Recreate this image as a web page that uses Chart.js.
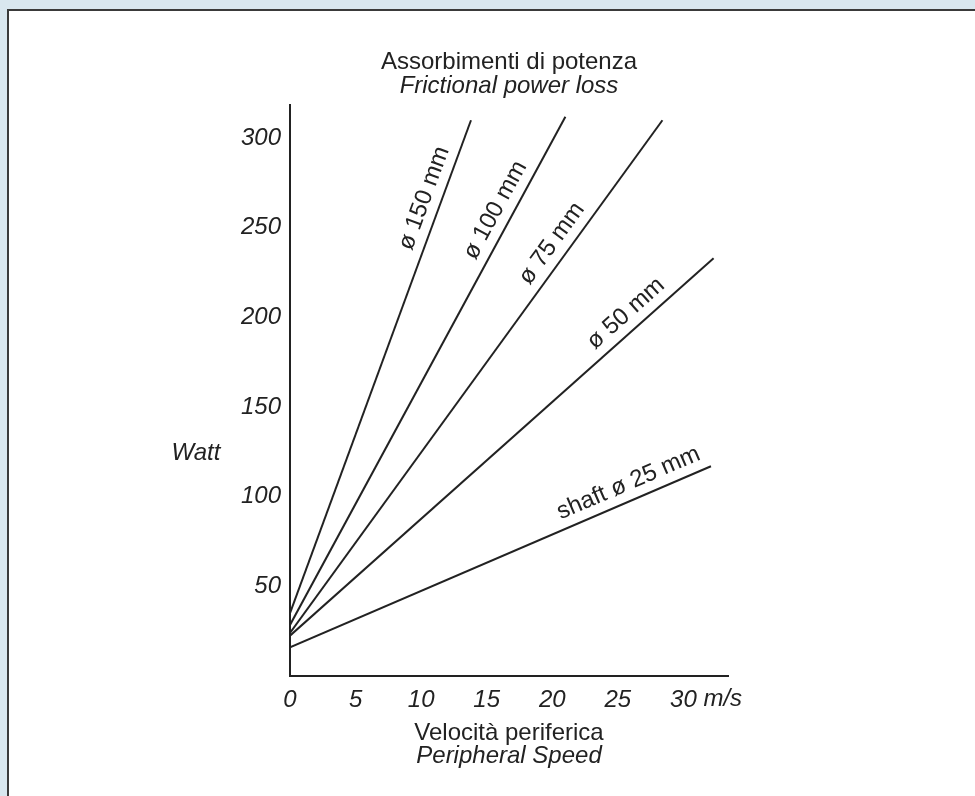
<!DOCTYPE html>
<html lang="it">
<head>
    <meta charset="UTF-8">
    <title>Assorbimenti di potenza</title>
    <style>
        body {
            margin: 0;
            width: 975px;
            height: 796px;
            overflow: hidden;
            background-color: #d9e7ef;
            font-family: "Liberation Sans", Arial, sans-serif;
        }
        .panel {
            position: absolute;
            left: 7px;
            top: 9px;
            width: 980px;
            height: 800px;
            background-color: #fff;
            border-left: 2px solid #3a3a3a;
            border-top: 2px solid #3a3a3a;
        }
        .chart-container {
            position: absolute;
            left: 0;
            top: 0;
            width: 975px;
            height: 796px;
        }
    </style>
</head>
<body>
    <div class="panel"></div>
    <div class="chart-container">
        <canvas id="powerChart"></canvas>
    </div>

    <script src="https://cdn.jsdelivr.net/npm/chart.js"></script>
    <script>
        // curves: power at 0 m/s and where each line ends
        const seriesNames = ['ø 150 mm', 'ø 100 mm', 'ø 75 mm', 'ø 50 mm', 'shaft ø 25 mm'];
        const wattAtZero = [35, 28.5, 24, 22.5, 16];
        const speedAtEnd = [13.8, 21.0, 28.4, 32.3, 32.1];
        const wattAtEnd = [310, 312, 310, 233, 117];

        const speedTicks = [0, 5, 10, 15, 20, 25, 30];
        const wattTicks = [50, 100, 150, 200, 250, 300];

        const ink = '#222';
        const fontFamily = '"Liberation Sans", Arial, Helvetica, sans-serif';

        const datasets = seriesNames.map(function (name, i) {
            return {
                label: name,
                data: [
                    { x: 0, y: wattAtZero[i] },
                    { x: speedAtEnd[i], y: wattAtEnd[i] }
                ],
                borderColor: ink,
                borderWidth: 2,
                pointRadius: 0,
                fill: false
            };
        });

        // where along each line its name sits (0 = start, 1 = end)
        const labelAlong = [0.83, 0.80, 0.74, 0.82, 0.82];

        const textPlugin = {
            id: 'chartTexts',
            afterDraw: function (chart) {
                const c = chart.ctx;
                const xs = chart.scales.x;
                const mid = (xs.left + xs.right) / 2;
                c.save();
                c.fillStyle = ink;
                c.textAlign = 'center';
                c.textBaseline = 'middle';

                c.font = '24px ' + fontFamily;
                c.fillText('Assorbimenti di potenza', mid, 62);
                c.font = 'italic 24px ' + fontFamily;
                c.fillText('Frictional power loss', mid, 86);

                c.font = '24px ' + fontFamily;
                c.fillText('Velocità periferica', mid, 733);
                c.font = 'italic 24px ' + fontFamily;
                c.fillText('Peripheral Speed', mid, 756);

                c.fillText('Watt', 196, 453);

                // unit after the last speed tick
                c.textAlign = 'left';
                const x30 = xs.getPixelForValue(30);
                const w30 = c.measureText('30').width;
                c.fillText(' m/s', x30 + w30 / 2, xs.top + 23);

                // line names, written along each line
                c.font = '24px ' + fontFamily;
                c.textAlign = 'center';
                chart.data.datasets.forEach(function (ds, i) {
                    const pts = chart.getDatasetMeta(i).data;
                    const p0 = pts[0], p1 = pts[1];
                    const dx = p1.x - p0.x, dy = p1.y - p0.y;
                    const len = Math.hypot(dx, dy);
                    const f = labelAlong[i];
                    const off = 17;
                    const px = p0.x + dx * f + (dy / len) * off;
                    const py = p0.y + dy * f - (dx / len) * off;
                    c.save();
                    c.translate(px, py);
                    c.rotate(Math.atan2(dy, dx));
                    c.fillText(ds.label, 0, 0);
                    c.restore();
                });
                c.restore();
            }
        };

        const config = {
            type: 'line',
            data: { datasets: datasets },
            options: {
                responsive: true,
                maintainAspectRatio: false,
                animation: false,
                layout: {
                    padding: { left: 0, top: 105, right: 247, bottom: 0 }
                },
                plugins: {
                    legend: { display: false },
                    tooltip: { enabled: false }
                },
                scales: {
                    x: {
                        type: 'linear',
                        min: 0,
                        max: 33.4,
                        grid: { display: false },
                        border: { display: true, color: ink, width: 2 },
                        afterBuildTicks: function (scale) {
                            scale.ticks = speedTicks.map(function (v) { return { value: v }; });
                        },
                        afterFit: function (scale) { scale.height = 120; },
                        ticks: {
                            color: ink,
                            padding: 2,
                            maxRotation: 0,
                            font: { family: fontFamily, size: 24, style: 'italic' }
                        }
                    },
                    y: {
                        type: 'linear',
                        min: 0,
                        max: 318.5,
                        grid: { display: false },
                        border: { display: true, color: ink, width: 2 },
                        afterBuildTicks: function (scale) {
                            scale.ticks = wattTicks.map(function (v) { return { value: v }; });
                        },
                        afterFit: function (scale) { scale.width = 290; },
                        ticks: {
                            color: ink,
                            padding: 1,
                            font: { family: fontFamily, size: 24, style: 'italic' }
                        }
                    }
                }
            },
            plugins: [textPlugin]
        };

        const powerChart = new Chart(document.getElementById('powerChart'), config);
    </script>
</body>
</html>
